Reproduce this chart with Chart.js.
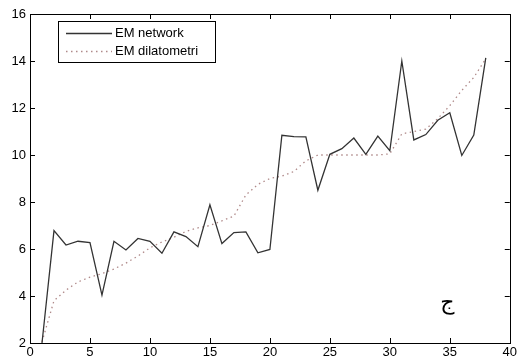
<!DOCTYPE html>
<html>
<head>
<meta charset="utf-8">
<script src="https://cdn.jsdelivr.net/npm/chart.js@4"></script>
<style>
  html, body { margin: 0; padding: 0; background: #fff; }
  #wrap { width: 519px; height: 360px; }
</style>
</head>
<body>
<div id="wrap"><canvas id="chart" width="519" height="360"></canvas></div>
<script>
// x positions (sample index)
const xs = [1,2,3,4,5,6,7,8,9,10,11,12,13,14,15,16,17,18,19,20,21,22,23,24,25,26,27,28,29,30,31,32,33,34,35,36,37,38];

// EM network (solid)
const network = [2.0,6.78,6.17,6.33,6.27,4.04,6.33,5.96,6.45,6.33,5.82,6.73,6.53,6.1,7.88,6.23,6.7,6.73,5.84,5.98,
  10.84,10.78,10.77,8.5,10.03,10.27,10.72,10.03,10.8,10.18,14.0,10.64,10.87,11.48,11.8,9.98,10.85,14.13];

// EM dilatometri (dotted)
const dilatometri = [2.05,3.8,4.25,4.6,4.8,4.95,5.15,5.4,5.7,6.05,6.3,6.5,6.75,6.9,7.0,7.2,7.4,8.3,8.75,9.0,
  9.1,9.3,9.75,10.0,10.0,10.0,10.0,10.0,10.0,10.05,10.9,11.0,11.1,11.55,12.1,12.75,13.3,14.1];

const xTicks = [0,5,10,15,20,25,30,35,40];
const yTicks = [2,4,6,8,10,12,14,16];
const seriesLabels = ["EM network", "EM dilatometri"];

const FONT = "'Liberation Sans', Arial, sans-serif";

const toPts = (vals) => vals.map((v, i) => ({ x: xs[i], y: v }));

// box, inward ticks, legend and the Arabic mark
const matlabFrame = {
  id: "matlabFrame",
  afterDraw(chart) {
    const ctx = chart.ctx;
    const a = chart.chartArea;
    const sx = chart.scales.x, sy = chart.scales.y;
    ctx.save();
    ctx.strokeStyle = "#000";
    ctx.lineWidth = 1;
    ctx.strokeRect(Math.round(a.left) + 0.5, Math.round(a.top) + 0.5,
      Math.round(a.right - a.left), Math.round(a.bottom - a.top));

    const tl = 5;
    ctx.beginPath();
    xTicks.forEach((t) => {
      const px = Math.round(sx.getPixelForValue(t)) + 0.5;
      ctx.moveTo(px, a.bottom); ctx.lineTo(px, a.bottom - tl);
      ctx.moveTo(px, a.top); ctx.lineTo(px, a.top + tl);
    });
    yTicks.forEach((t) => {
      const py = Math.round(sy.getPixelForValue(t)) + 0.5;
      ctx.moveTo(a.left, py); ctx.lineTo(a.left + tl, py);
      ctx.moveTo(a.right, py); ctx.lineTo(a.right - tl, py);
    });
    ctx.stroke();

    // legend box
    const lx = 58.5, ly = 21.5, lw = 157, lh = 41;
    ctx.fillStyle = "#fff";
    ctx.fillRect(lx, ly, lw, lh);
    ctx.strokeRect(lx, ly, lw, lh);
    ctx.font = "13px " + FONT;
    ctx.textBaseline = "middle";
    chart.data.datasets.forEach((ds, i) => {
      const y = 33.5 + i * 18;
      ctx.strokeStyle = ds.borderColor;
      ctx.lineWidth = ds.borderWidth;
      ctx.setLineDash(ds.borderDash || []);
      ctx.beginPath();
      ctx.moveTo(66, y); ctx.lineTo(112, y);
      ctx.stroke();
      ctx.setLineDash([]);
      ctx.fillStyle = "#000";
      ctx.fillText(ds.label, 115, y);
    });

    // Arabic letter
    ctx.font = "22px 'DejaVu Sans', 'Noto Sans', sans-serif";
    ctx.textAlign = "center";
    ctx.fillStyle = "#000";
    ctx.fillText("ج", sx.getPixelForValue(34.8), sy.getPixelForValue(3.7));
    ctx.restore();
  }
};

new Chart(document.getElementById("chart"), {
  type: "line",
  data: {
    datasets: [
      {
        label: seriesLabels[0],
        data: toPts(network),
        borderColor: "#333",
        borderWidth: 1.3,
        pointRadius: 0,
        tension: 0,
        fill: false
      },
      {
        label: seriesLabels[1],
        data: toPts(dilatometri),
        borderColor: "#b08a8a",
        borderWidth: 1.3,
        borderDash: [1.5, 3.5],
        pointRadius: 0,
        tension: 0,
        fill: false
      }
    ]
  },
  options: {
    responsive: false,
    animation: false,
    devicePixelRatio: 1,
    layout: { padding: { top: 14, right: 7, left: 0, bottom: 0 } },
    plugins: { legend: { display: false }, tooltip: { enabled: false } },
    scales: {
      x: {
        type: "linear",
        min: 0, max: 40,
        afterBuildTicks: (s) => { s.ticks = xTicks.map((v) => ({ value: v })); },
        afterFit: (s) => { s.height = 17; },
        grid: { display: false, drawTicks: false },
        border: { display: false },
        ticks: { color: "#000", padding: 2, maxRotation: 0, font: { family: FONT, size: 13 } }
      },
      y: {
        type: "linear",
        min: 2, max: 16,
        afterBuildTicks: (s) => { s.ticks = yTicks.map((v) => ({ value: v })); },
        afterFit: (s) => { s.width = 30; },
        grid: { display: false, drawTicks: false },
        border: { display: false },
        ticks: { color: "#000", padding: 4, font: { family: FONT, size: 13 } }
      }
    }
  },
  plugins: [matlabFrame]
});
</script>
</body>
</html>
